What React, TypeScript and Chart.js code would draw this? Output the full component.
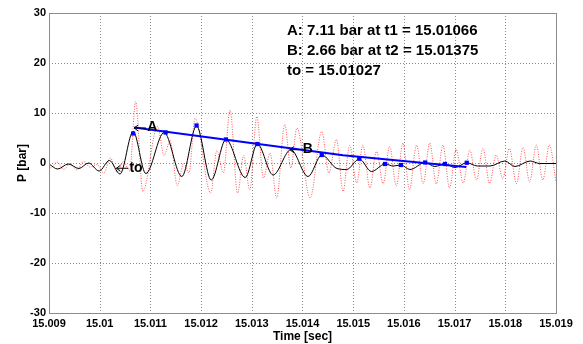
import { useEffect, useRef } from "react";
import { Chart, registerables } from "chart.js";

Chart.register(...registerables);

const FONT = "'Liberation Sans', Arial, sans-serif";

const xTickValues = [15.009, 15.01, 15.011, 15.012, 15.013, 15.014, 15.015, 15.016, 15.017, 15.018, 15.019];
const xTickLabels = ["15.009", "15.01", "15.011", "15.012", "15.013", "15.014", "15.015", "15.016", "15.017", "15.018", "15.019"];
const yTickValues = [-30, -20, -10, 0, 10, 20, 30];

// raw (dotted red) pressure signal: extremes
const redTime = [
  15.009, 15.00903, 15.00916, 15.00929, 15.00942, 15.00955, 15.00968, 15.00981, 15.00995, 15.01008,
  15.01021, 15.01034, 15.01047, 15.01059, 15.01071, 15.01085, 15.01114, 15.01127, 15.01139, 15.01153,
  15.01166, 15.01176, 15.01188, 15.01219, 15.01231, 15.01244, 15.01257, 15.01272, 15.01284, 15.01296,
  15.0131, 15.01323, 15.01336, 15.01349, 15.01365, 15.01377, 15.01389, 15.01415, 15.01438, 15.01452,
  15.01467, 15.0148, 15.01493, 15.01507, 15.01519, 15.01533, 15.01546, 15.01559, 15.01572, 15.01585,
  15.01598, 15.01611, 15.01625, 15.01638, 15.01651, 15.01664, 15.01677, 15.0169, 15.01703, 15.01717,
  15.0173, 15.01743, 15.01756, 15.01769, 15.01782, 15.01795, 15.01808, 15.01822, 15.01835, 15.01848,
  15.01861, 15.01874, 15.01887, 15.019,
];
const redP = [
  -0.4, -1.0, 0.2, -1.3, -0.1, -1.4, 0.3, -0.8, -0.3, -2.0,
  1.0, -1.8, 0.3, -1.6, 12.3, -5.7, 7.3, 1.5, 4.5, -4.5,
  0.0, -2.0, 8.9, -6.0, 2.5, -2.0, 10.6, -6.0, 1.5, -5.4,
  9.3, -3.0, 2.0, -7.0, 7.7, -1.0, 7.0, -7.0, 6.3, -2.0,
  4.7, -5.7, 3.5, -4.0, 3.6, -5.0, 2.3, -4.1, 3.3, -4.6,
  4.0, -5.3, 3.6, -4.1, 4.0, -4.2, 3.6, -5.0, 2.7, -4.0,
  2.6, -3.4, 2.9, -4.1, 1.6, -3.1, 2.9, -4.1, 3.1, -3.8,
  3.6, -3.4, 3.6, -3.8,
];

// filtered (black) signal
const blackTime = [
  15.009, 15.00917, 15.00938, 15.00959, 15.00978, 15.00999, 15.01019, 15.0104, 15.01066, 15.01091,
  15.01127, 15.01162, 15.01191, 15.0122, 15.01249, 15.01287, 15.01311, 15.01342, 15.01377, 15.01411,
  15.01438, 15.01468, 15.01487, 15.01512, 15.01536, 15.01563, 15.01579, 15.01594, 15.01612, 15.01642,
  15.01661, 15.01681, 15.01701, 15.01724, 15.01745, 15.0177, 15.01799, 15.01819, 15.01849, 15.01868,
  15.019,
];
const blackP = [
  -0.2, -1.2, -0.2, -1.1, 0.0, -1.6, 0.5, -2.2, 6.3, -2.1,
  6.1, -2.7, 7.4, -3.4, 4.7, -2.9, 3.8, -2.4, 2.65, -2.7,
  1.6, -1.1, -1.3, 0.8, -1.7, -0.2, -0.6, -0.4, -1.3, 0.1,
  -0.7, -0.2, -0.9, 0.05, -0.6, -0.6, 0.4, -0.7, 0.4, -0.1,
  -0.1,
];

// detected peaks (blue squares)
const peakTime = [15.01066, 15.0113, 15.01191, 15.01249, 15.01311, 15.01438, 15.01512, 15.01563, 15.01594, 15.01642, 15.01681, 15.01724];
const peakP = [5.9, 6.1, 7.5, 4.7, 3.8, 1.6, 0.85, -0.2, -0.4, 0.1, -0.2, 0.05];

// decay line (blue)
const fitTime = [15.01068, 15.0148, 15.01723];
const fitP = [7.1, 1.55, -0.8];

// arrow annotations
const markLabels = ["A", "B", "to"];
const markTime = [15.01068, 15.01375, 15.01033];
const markP = [7.0, 2.66, -1.05];

const infoLines = ["A: 7.11 bar at t1 = 15.01066", "B: 2.66 bar at t2 = 15.01375", "to = 15.01027"];

const toXY = (t: number[], v: number[]) => t.map((tt, i) => ({ x: tt, y: v[i] }));

const gridPlugin = {
  id: "dottedGrid",
  beforeDatasetsDraw(chart: any) {
    const { ctx, chartArea: a, scales } = chart;
    const x = scales.x;
    const y = scales.y;
    ctx.save();
    ctx.strokeStyle = "#8a8a8a";
    ctx.lineWidth = 1;
    ctx.setLineDash([1, 2]);
    xTickValues.forEach((v) => {
      const px = Math.round(x.getPixelForValue(v)) + 0.5;
      ctx.beginPath();
      ctx.moveTo(px, a.top);
      ctx.lineTo(px, a.bottom);
      ctx.stroke();
    });
    yTickValues.forEach((v) => {
      const py = Math.round(y.getPixelForValue(v)) + 0.5;
      ctx.beginPath();
      ctx.moveTo(a.left, py);
      ctx.lineTo(a.right, py);
      ctx.stroke();
    });
    ctx.restore();
  },
};

const overlay = {
  id: "overlay",
  afterDatasetsDraw(chart: any) {
    const { ctx, chartArea: a, scales } = chart;
    const x = scales.x;
    const y = scales.y;
    ctx.save();
    // frame
    ctx.strokeStyle = "#8c8c8c";
    ctx.lineWidth = 1;
    ctx.setLineDash([]);
    ctx.strokeRect(Math.round(a.left) + 0.5, Math.round(a.top) + 0.5, Math.round(a.right - a.left), Math.round(a.bottom - a.top));

    // arrows
    ctx.strokeStyle = "#000";
    ctx.fillStyle = "#000";
    ctx.font = `bold 14px ${FONT}`;
    ctx.textBaseline = "middle";
    ctx.textAlign = "left";
    markLabels.forEach((lab, i) => {
      const px = x.getPixelForValue(markTime[i]);
      const py = y.getPixelForValue(markP[i]);
      ctx.beginPath();
      ctx.moveTo(px, py);
      ctx.lineTo(px + 12, py);
      ctx.moveTo(px + 4, py - 3);
      ctx.lineTo(px, py);
      ctx.lineTo(px + 4, py + 3);
      ctx.stroke();
      ctx.fillText(lab, px + 13, py - 0.5);
    });

    // info text
    ctx.font = `bold 15px ${FONT}`;
    infoLines.forEach((s, i) => {
      ctx.fillText(s, 287, 31 + i * 20);
    });
    ctx.restore();
  },
};

export default function App() {
  const ref = useRef<HTMLCanvasElement | null>(null);
  useEffect(() => {
    if (!ref.current) return;
    const chart = new Chart(ref.current, {
      type: "line",
      data: {
        datasets: [
          {
            label: "peaks",
            data: toXY(peakTime, peakP),
            showLine: false,
            pointStyle: "rect",
            pointRadius: 3,
            pointBackgroundColor: "#0000ff",
            pointBorderColor: "#0000ff",
            pointBorderWidth: 0,
            borderColor: "#0000ff",
          },
          {
            label: "decay",
            data: toXY(fitTime, fitP),
            borderColor: "#0000ff",
            borderWidth: 2,
            pointRadius: 0,
            tension: 0,
          },
          {
            label: "filtered",
            data: toXY(blackTime, blackP),
            borderColor: "#000000",
            borderWidth: 1,
            pointRadius: 0,
            cubicInterpolationMode: "monotone",
          },
          {
            label: "raw",
            data: toXY(redTime, redP),
            borderColor: "rgba(255,40,40,0.8)",
            borderWidth: 1,
            borderDash: [1, 1.5],
            pointRadius: 0,
            cubicInterpolationMode: "monotone",
          },
        ],
      },
      options: {
        responsive: false,
        animation: false,
        devicePixelRatio: 1,
        layout: { padding: { top: 13, right: 27, left: 0, bottom: 0 } },
        plugins: { legend: { display: false }, tooltip: { enabled: false } },
        scales: {
          x: {
            type: "linear",
            min: 15.009,
            max: 15.019,
            afterBuildTicks: (s: any) => {
              s.ticks = xTickValues.map((v) => ({ value: v }));
            },
            afterFit: (s: any) => {
              s.height = 31;
            },
            ticks: {
              autoSkip: false,
              maxRotation: 0,
              padding: 4,
              color: "#000",
              font: { family: FONT, size: 11, weight: "bold" },
              callback: (_v: any, i: number) => xTickLabels[i],
            },
            grid: { display: false, drawTicks: false },
            border: { display: false },
            title: {
              display: true,
              text: "Time [sec]",
              color: "#000",
              font: { family: FONT, size: 12, weight: "bold", lineHeight: 1.2 },
              padding: { top: 0, bottom: 0 },
            },
          },
          y: {
            min: -30,
            max: 30,
            afterBuildTicks: (s: any) => {
              s.ticks = yTickValues.map((v) => ({ value: v }));
            },
            afterFit: (s: any) => {
              s.width = 49;
            },
            ticks: {
              padding: 3,
              color: "#000",
              font: { family: FONT, size: 11, weight: "bold" },
              callback: (v: any) => String(v),
            },
            grid: { display: false, drawTicks: false },
            border: { display: false },
            title: {
              display: true,
              text: "P [bar]",
              color: "#000",
              font: { family: FONT, size: 12, weight: "bold", lineHeight: 1.2 },
              padding: { top: 15, bottom: 0 },
            },
          },
        },
      },
      plugins: [gridPlugin, overlay],
    });
    return () => chart.destroy();
  }, []);
  return (
    <div style={{ position: "absolute", left: 0, top: 0, width: 583, height: 344, background: "#fff" }}>
      <canvas ref={ref} width={583} height={344} style={{ display: "block" }} />
    </div>
  );
}
